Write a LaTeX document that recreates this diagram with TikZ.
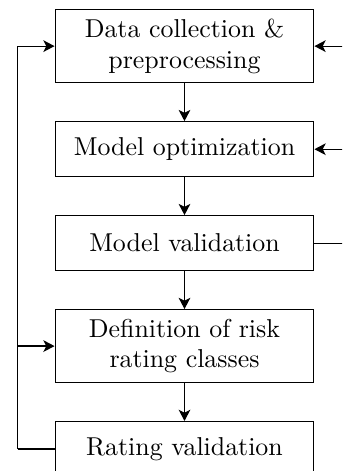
\documentclass[tikz,border=0pt]{standalone}
\usetikzlibrary{positioning,arrows.meta}

\begin{document}
\begin{tikzpicture}[->,>={Stealth[length=4.6pt,width=4.8pt,inset=1.2pt]},auto,node distance=15.5pt,line width=0.5pt,main node/.style={draw,rectangle,align=center,minimum width=106pt,minimum height=22.5pt,inner sep=3.8pt,font=\fontsize{10.6pt}{12.6pt}\selectfont}]
            \clip (0,0) rectangle (140.2pt,-193pt);

            \node[main node] (1) at (75.6pt,-18.9pt) {Data collection \&\\preprocessing};
            \node[main node] (2) [below = of 1] {Model optimization};
            \node[main node] (3) [below = of 2] {Model validation};
            \node[main node] (4) [below = of 3] {Definition of risk\\rating classes};
            \node[main node] (5) [below = of 4] {Rating validation};

            % feedback loops on both sides
            \coordinate (l5) at ([xshift=-15.1pt]5.west);
            \coordinate (l1) at (l5 |- 1.west);
            \coordinate (l4) at (l5 |- 4.west);
            \coordinate (r3) at ([xshift=15.1pt]3.east);
            \coordinate (r1) at (r3 |- 1.east);
            \coordinate (r2) at (r3 |- 2.east);

            \path
                (1) edge (2)
                (2) edge (3)
                (3) edge (4)
                (4) edge (5)
                (5.west) edge[-] (l5)
                (l5) edge[-] (l1)
                (l1) edge (1.west)
                (l4) edge (4.west)
                (3.east) edge[-] (r3)
                (r3) edge[-] (r1)
                (r1) edge (1.east)
                (r2) edge (2.east)
                ;
        \end{tikzpicture}
\end{document}
